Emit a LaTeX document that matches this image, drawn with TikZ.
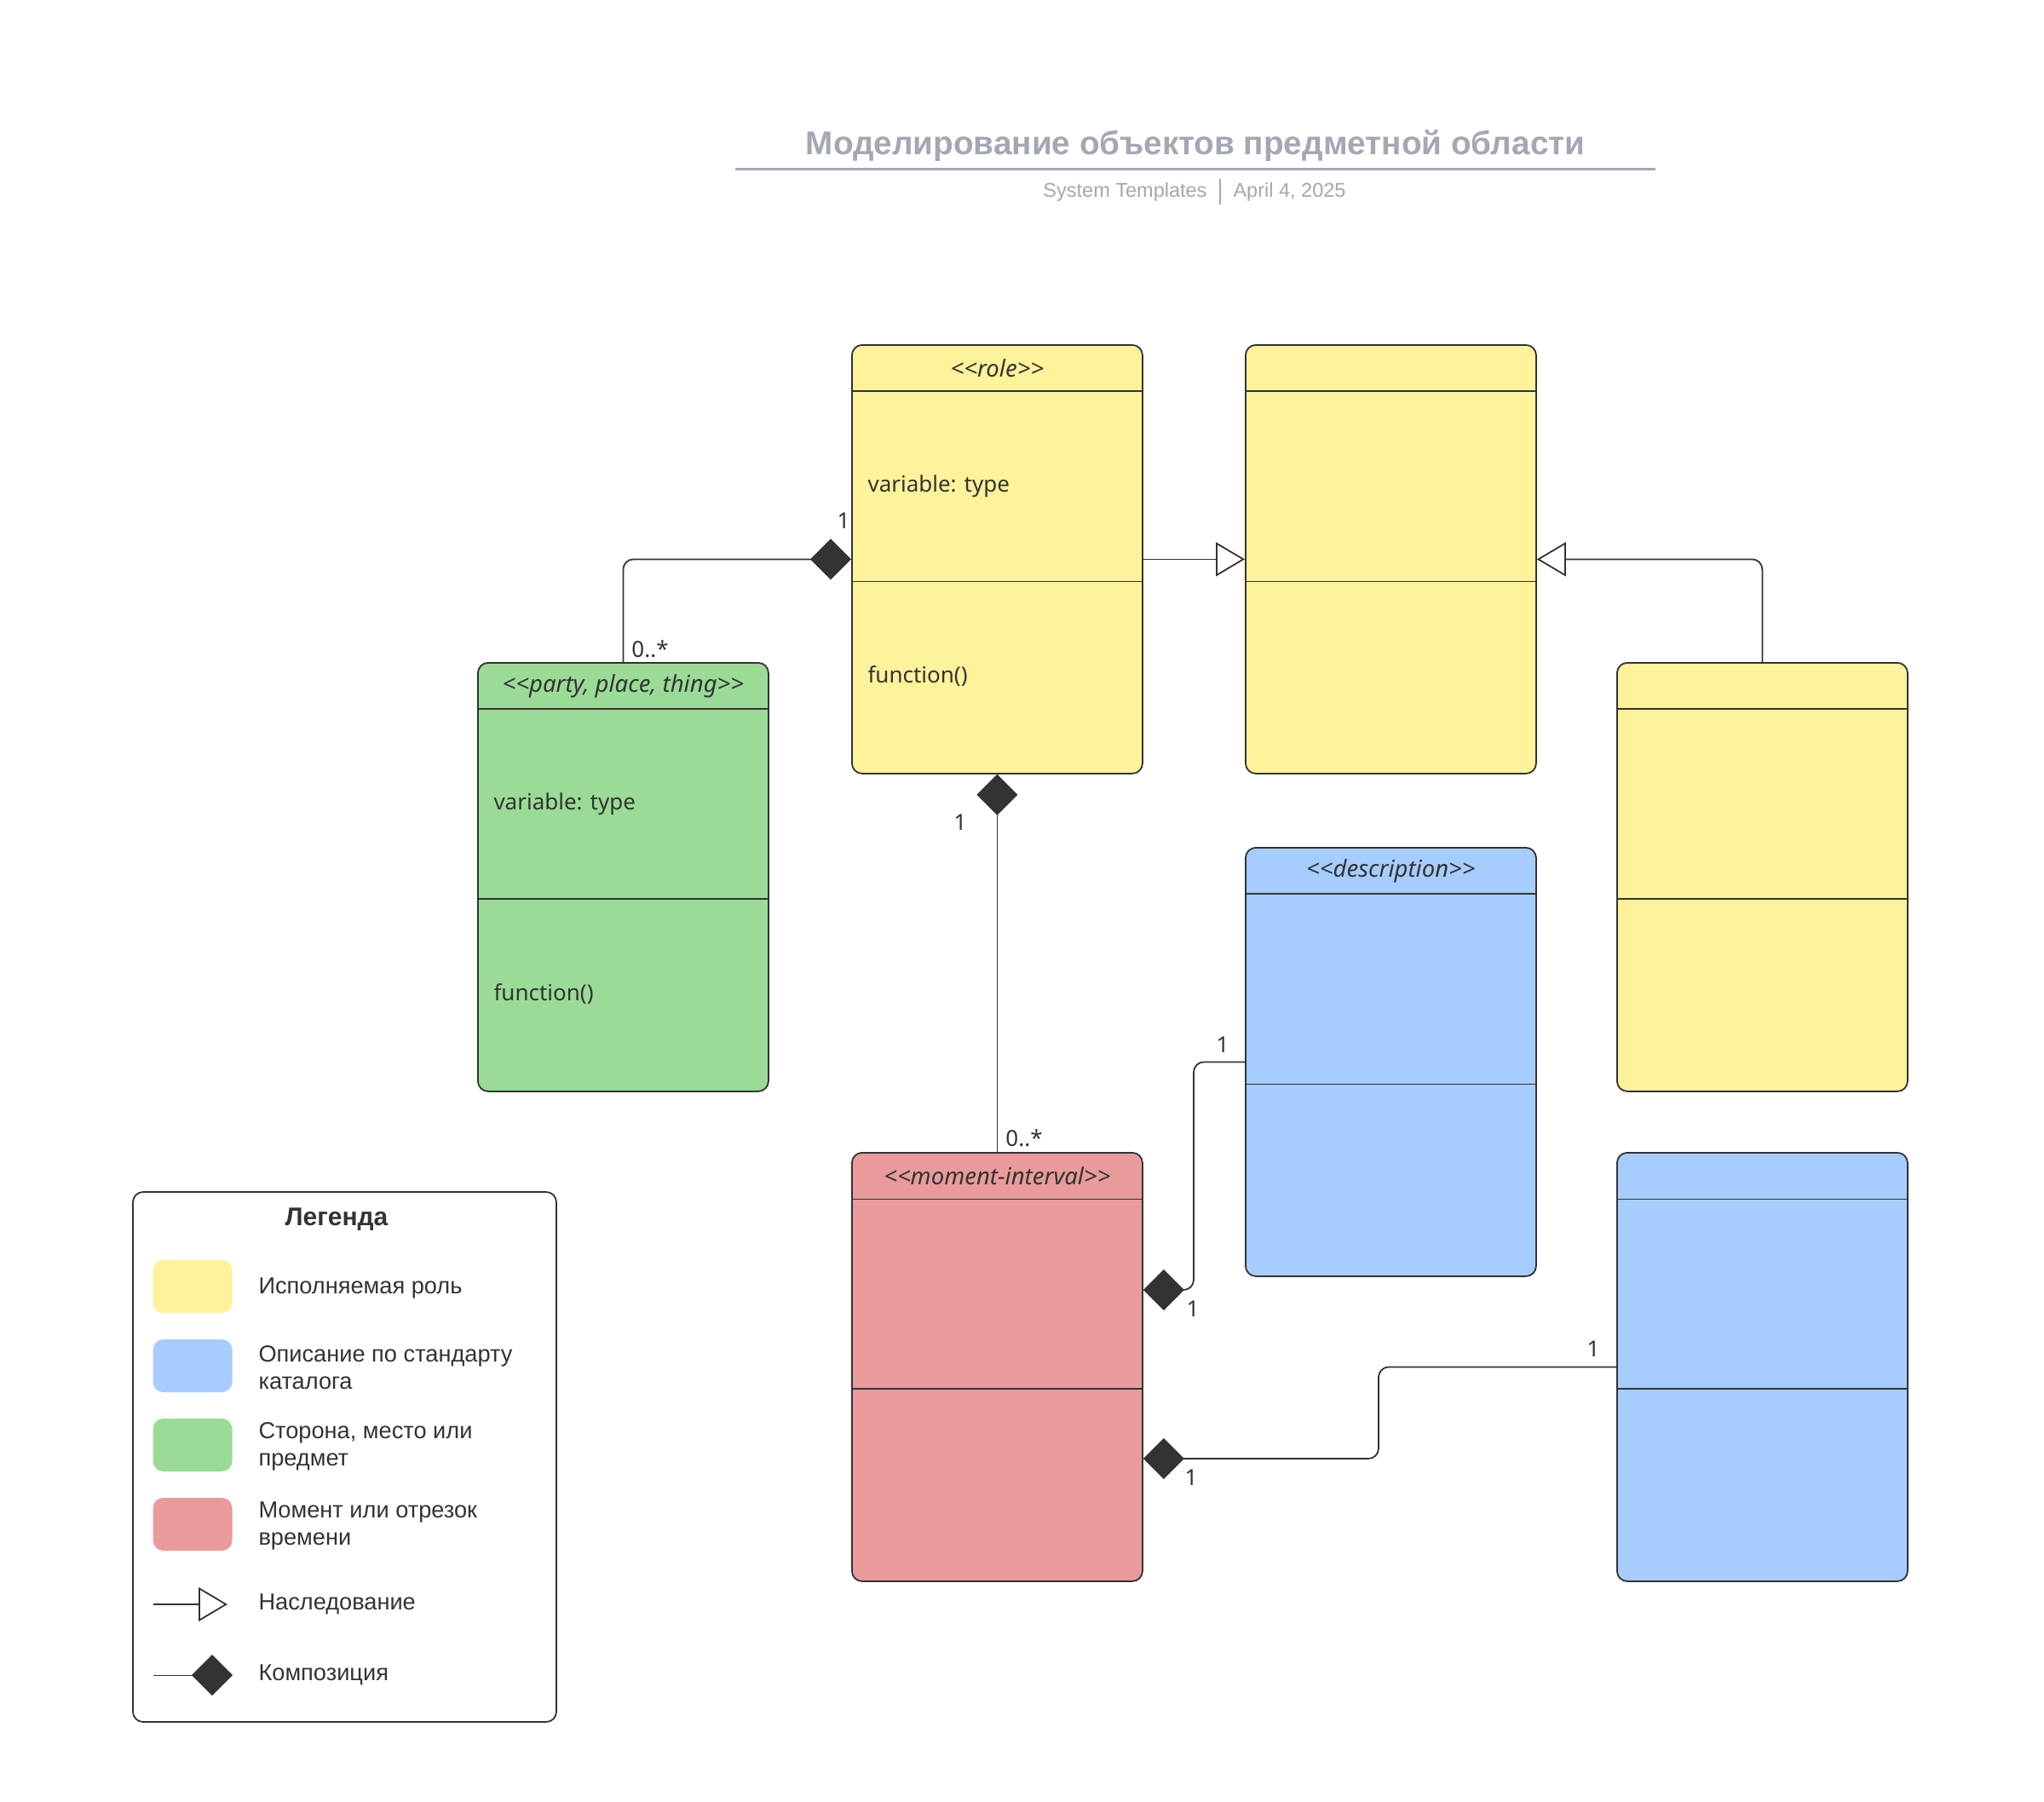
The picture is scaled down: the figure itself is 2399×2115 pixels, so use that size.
\documentclass[tikz,border=0pt]{standalone}
\usepackage{fontspec}
\usetikzlibrary{arrows.meta}
\newfontfamily\boxfont{Noto Sans}
\newfontfamily\legfont{Liberation Sans}

\definecolor{linec}{HTML}{333333}
\definecolor{titlec}{HTML}{A3A8B3}
\definecolor{roleyellow}{HTML}{FEF29A}
\definecolor{descblue}{HTML}{A6CDFE}
\definecolor{pptgreen}{HTML}{9ADC96}
\definecolor{mipink}{HTML}{E99B9B}

\tikzset{
  classbox/.style={draw=linec, line width=1.8pt, rounded corners=12pt, anchor=north west,
    minimum width=341pt, minimum height=503pt, inner sep=0pt},
  sepline/.style={draw=linec, line width=1.6pt},
  septhin/.style={draw=linec, line width=1pt},
  stereo/.style={font=\boxfont\itshape\fontsize{27.5}{33}\selectfont, text=linec},
  member/.style={font=\boxfont\fontsize{26}{31}\selectfont, text=linec, anchor=west},
  mult/.style={font=\boxfont\fontsize{26}{31}\selectfont, text=linec},
  compo/.style={draw=linec, line width=1.8pt, rounded corners=12pt,
    -{Diamond[length=48pt,width=48pt,fill=linec]}},
  inherit/.style={draw=linec, line width=1.8pt, rounded corners=12pt,
    -{Triangle[open,length=34pt,width=40pt,fill=white]}},
  swatch/.style={rounded corners=12pt, minimum width=93pt, minimum height=62pt, inner sep=0pt},
  legtext/.style={font=\legfont\fontsize{27.2}{32}\selectfont, text=linec, anchor=west, align=left}
}

\begin{document}
\begin{tikzpicture}[x=1pt, y=-1pt]
\useasboundingbox[fill=white] (0,0) rectangle (2399,2115);

% title
\node[font=\legfont\bfseries\fontsize{38.7}{46}\selectfont, text=titlec] (title) at (1403,171) {Моделирование объектов предметной области};
\draw[titlec, line width=3pt] (863,198) -- (1943,198);
\node[font=\legfont\fontsize{23.5}{28}\selectfont, text=titlec, anchor=east] (subleft) at (1420,225) {System Templates};
\node[font=\legfont\fontsize{23.5}{28}\selectfont, text=titlec, anchor=west] (subright) at (1444,225) {April 4, 2025};
\draw[titlec, line width=1.2pt] (1432,210) -- (1432,240);

% class boxes
\node[classbox, fill=roleyellow] (role) at (999,404) {};
\draw[sepline] ([yshift=-55pt]role.north west) -- ([yshift=-55pt]role.north east);
\draw[septhin] ([yshift=-278pt]role.north west) -- ([yshift=-278pt]role.north east);
\node[stereo] (roleh) at ([yshift=-28pt]role.north) {<<role>>};
\node[member] (rolevar) at ([xshift=16pt,yshift=-167pt]role.north west) {variable: type};
\node[member] (rolefun) at ([xshift=16pt,yshift=-390pt]role.north west) {function()};

\node[classbox, fill=roleyellow] (yel2) at (1461,404) {};
\draw[sepline] ([yshift=-55pt]yel2.north west) -- ([yshift=-55pt]yel2.north east);
\draw[septhin] ([yshift=-278pt]yel2.north west) -- ([yshift=-278pt]yel2.north east);

\node[classbox, fill=pptgreen] (party) at (560,777) {};
\draw[sepline] ([yshift=-55pt]party.north west) -- ([yshift=-55pt]party.north east);
\draw[sepline] ([yshift=-278pt]party.north west) -- ([yshift=-278pt]party.north east);
\node[stereo] (partyh) at ([yshift=-28pt]party.north) {<<party, place, thing>>};
\node[member] (partyvar) at ([xshift=16pt,yshift=-167pt]party.north west) {variable: type};
\node[member] (partyfun) at ([xshift=16pt,yshift=-390pt]party.north west) {function()};

\node[classbox, fill=roleyellow] (yel3) at (1897,777) {};
\draw[sepline] ([yshift=-55pt]yel3.north west) -- ([yshift=-55pt]yel3.north east);
\draw[sepline] ([yshift=-278pt]yel3.north west) -- ([yshift=-278pt]yel3.north east);

\node[classbox, fill=descblue] (desc) at (1461,994) {};
\draw[sepline] ([yshift=-55pt]desc.north west) -- ([yshift=-55pt]desc.north east);
\draw[septhin] ([yshift=-278pt]desc.north west) -- ([yshift=-278pt]desc.north east);
\node[stereo] (desch) at ([yshift=-28pt]desc.north) {<<description>>};

\node[classbox, fill=mipink] (moment) at (999,1352) {};
\draw[septhin] ([yshift=-55pt]moment.north west) -- ([yshift=-55pt]moment.north east);
\draw[sepline] ([yshift=-278pt]moment.north west) -- ([yshift=-278pt]moment.north east);
\node[stereo] (momenth) at ([yshift=-28pt]moment.north) {<<moment-interval>>};

\node[classbox, fill=descblue] (blue2) at (1897,1352) {};
\draw[septhin] ([yshift=-55pt]blue2.north west) -- ([yshift=-55pt]blue2.north east);
\draw[sepline] ([yshift=-278pt]blue2.north west) -- ([yshift=-278pt]blue2.north east);

% connectors
\draw[compo] (party.north) |- (role.west);
\draw[inherit] (role.east) -- (yel2.west);
\draw[inherit] (yel3.north) |- (yel2.east);
\draw[compo, line width=1pt, -, {Diamond[length=48pt,width=48pt,fill=linec]}-] (role.south) -- (moment.north);
\draw[compo] (desc.west) -- ++(-60pt,0pt) |- ([yshift=-162pt]moment.north east);
\draw[compo] (blue2.west) -- ++(-279pt,0pt) |- ([yshift=-360pt]moment.north east);

% multiplicities
\node[mult] (m1) at (990,611) {1};
\node[mult] (m2) at (763,762) {0..*};
\node[mult] (m3) at (1127,965) {1};
\node[mult] (m4) at (1202,1336) {0..*};
\node[mult] (m5) at (1435,1226) {1};
\node[mult] (m6) at (1400,1536) {1};
\node[mult] (m7) at (1870,1583) {1};
\node[mult] (m8) at (1398,1734) {1};

% legend
\draw[linec, line width=1.8pt, rounded corners=12pt] (156,1399) rectangle (653,2021);
\node[font=\legfont\bfseries\fontsize{30}{36}\selectfont, text=linec] (legtitle) at (395,1431) {Легенда};
\node[swatch, fill=roleyellow] (swyel) at (226,1510) {};
\node[swatch, fill=descblue] (swblue) at (226,1603) {};
\node[swatch, fill=pptgreen] (swgreen) at (226,1696) {};
\node[swatch, fill=mipink] (swpink) at (226,1789) {};
\node[legtext] (lyel) at (300,1512) {Исполняемая роль};
\node[legtext] (lblue) at (300,1605) {Описание по стандарту\\каталога};
\node[legtext] (lgreen) at (300,1698) {Сторона, место или\\предмет};
\node[legtext] (lpink) at (300,1791) {Момент или отрезок\\времени};
\coordinate (inhfrom) at (180,1883);
\coordinate (inhto) at (267,1883);
\draw[inherit] (inhfrom) -- (inhto);
\node[legtext] (linh) at (300,1883) {Наследование};
\coordinate (compfrom) at (180,1966);
\coordinate (compto) at (273,1966);
\draw[compo, line width=1pt] (compfrom) -- (compto);
\node[legtext] (lcomp) at (300,1966) {Композиция};

\end{tikzpicture}
\end{document}
